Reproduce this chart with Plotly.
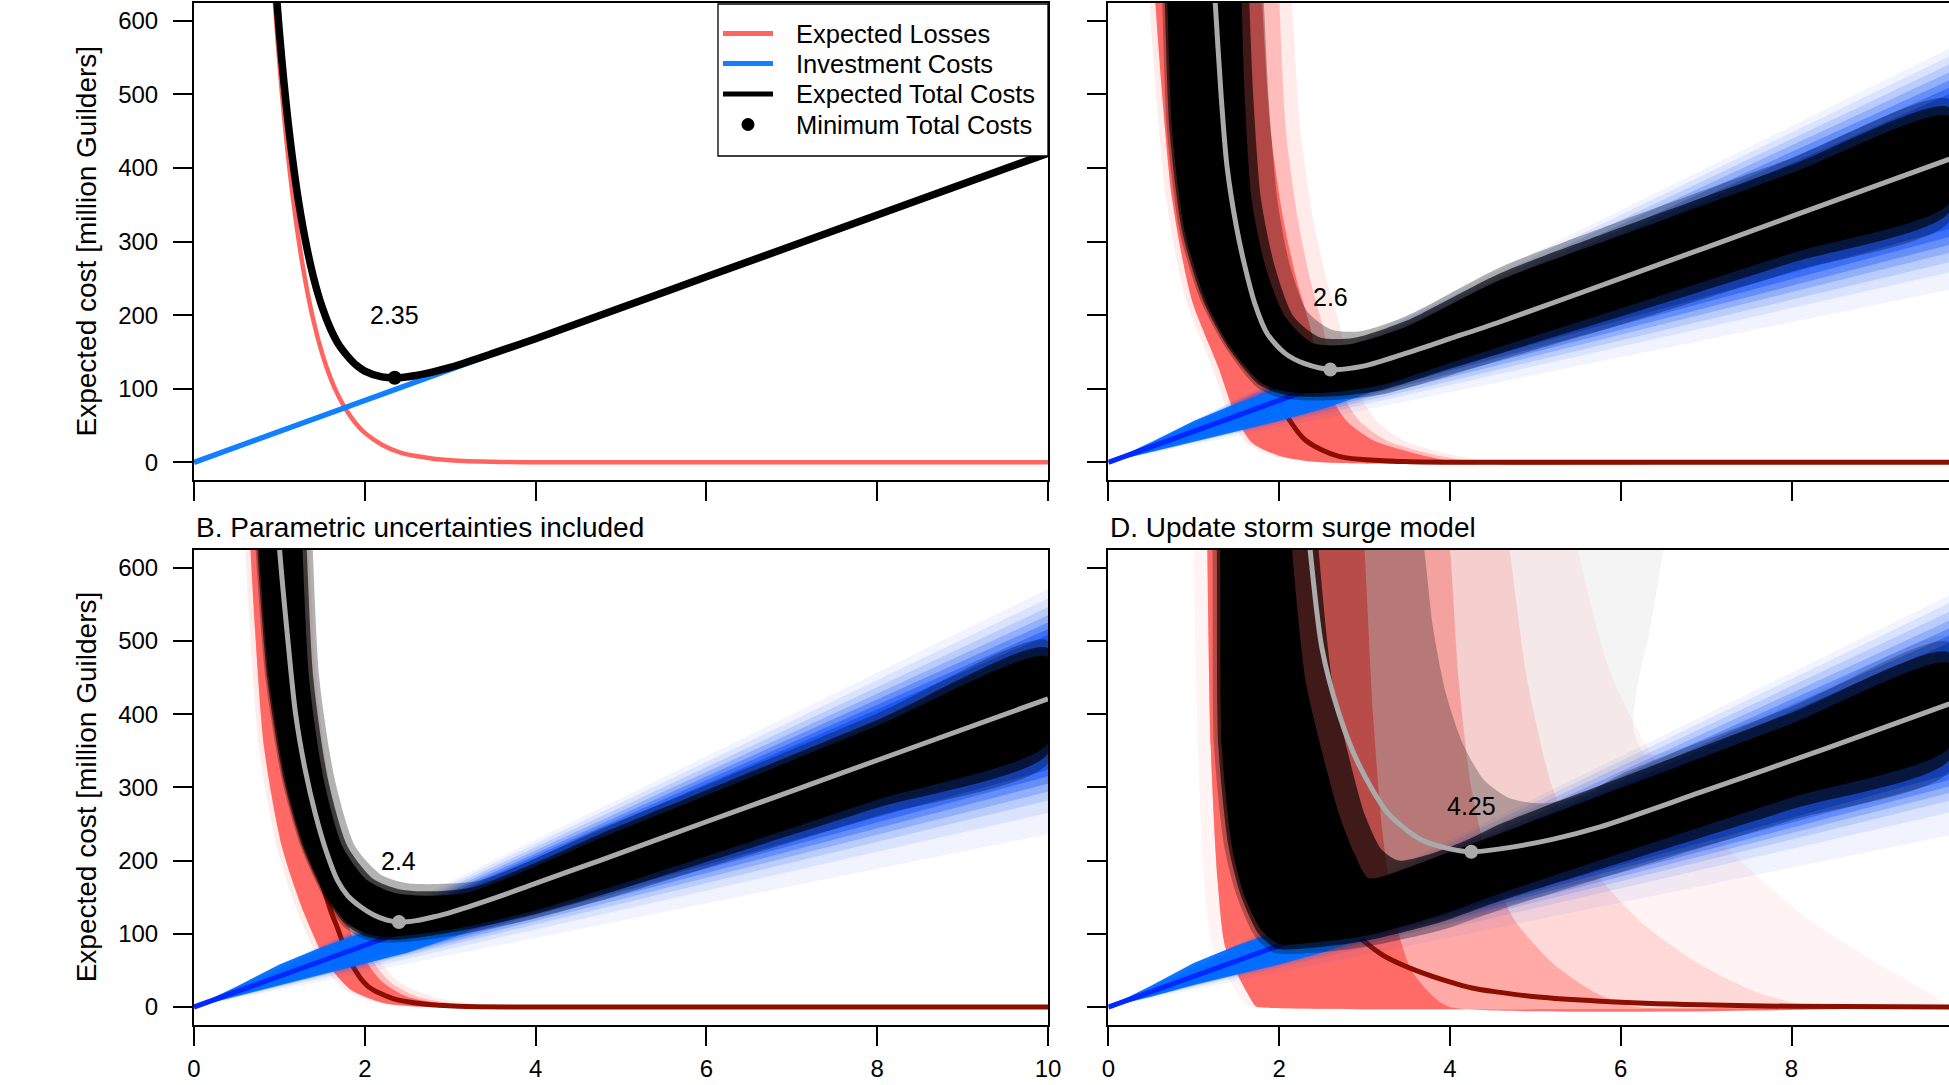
import plotly.graph_objects as go

# ---------------------------------------------------------------- data
# Panel A (deterministic)
A_X = [0.9, 1.0, 1.1, 1.2, 1.3, 1.4, 1.5, 1.6, 1.7, 1.8, 1.9, 2.0, 2.2, 2.4, 2.6, 2.8, 3.0, 3.5, 4.0, 5.0, 6.0, 8.0, 10.0]
A_LOSS = [703, 542, 418, 323, 249, 192, 148, 114, 88, 68, 52, 40, 24, 14, 8.5, 5, 3, 0.8, 0.2, 0, 0, 0, 0]
A_TOTAL = [741, 584, 464, 373, 304, 251, 211, 181, 159, 144, 132, 124, 116, 115, 118, 123, 129, 148, 168, 210, 252, 336, 420]
A_INV_X = [0, 10]
A_INV_Y = [0, 420]
A_OPT = [2.35, 115, 200]          # x, y, label y
A_LABEL = "2.35"

# Panel B (parametric uncertainties)
B_LOSS_MEAN_X = [1.0, 1.2, 1.42, 1.6, 1.68, 1.83, 2.03, 2.34, 2.7, 3.1, 4.0, 10.0]
B_LOSS_MEAN_Y = [560, 350, 205, 132, 108, 62, 29, 11, 4, 1, 0, 0]
B_TOTAL_MEAN_X = [0.93, 1.0, 1.1, 1.19, 1.3, 1.42, 1.55, 1.68, 1.8, 1.95, 2.1, 2.25, 2.4, 2.6, 2.8, 3.0, 3.5, 4.0, 4.75, 6.0, 8.0, 10.0]
B_TOTAL_MEAN_Y = [760, 628, 500, 400, 325, 264, 212, 173, 152, 137, 126, 119, 116, 118, 123, 129, 148, 169, 200, 253, 337, 421]
B_INV_MEAN_X = [0, 10]
B_INV_MEAN_Y = [0, 421]
B_OPT = [2.4, 116, 200]
B_LABEL = "2.4"
B_RED_LO_LEVELS = [760, 628, 355, 219, 128, 60, 24, 5.5, 0, 0]
B_RED_LO_X = [0.62, 0.66, 0.82, 1.03, 1.29, 1.56, 1.83, 2.22, 2.73, 10.0]
B_REDF_LO_X = [0.56, 0.60, 0.76, 0.97, 1.22, 1.49, 1.76, 2.15, 2.65, 10.0]
B_RED_HI_LEVELS = [760, 628, 420, 260, 150, 85, 36, 14, 2, 0, 0]
B_RED_HI_X = [1.15, 1.2, 1.3, 1.5, 1.7, 1.9, 2.19, 2.5, 3.1, 4.0, 10.0]
B_REDM_HI_X = [1.22, 1.27, 1.37, 1.57, 1.77, 1.97, 2.28, 2.62, 3.25, 4.2, 10.0]
B_REDF_HI_X = [1.3, 1.35, 1.45, 1.65, 1.85, 2.05, 2.38, 2.8, 3.45, 4.5, 10.0]
B_FAN_X = [0, 10]
B_FAN_HI = [571, 558, 546, 535, 525, 516, 508]
B_FAN_LO = [236, 265, 282, 294, 305, 315, 324]
B_BRIGHT_X = [0, 0.5, 1.0, 1.5, 2.0, 2.5, 3.2]
B_BRIGHT_HI = [0, 28, 58, 82, 102, 122, 135]
B_BRIGHT_LO = [0, 14, 30, 45, 59, 74, 102]
B_CORE_HI_X = [1.24, 1.27, 1.35, 1.52, 1.74, 2.03, 2.34, 2.7, 3.2, 4.0, 4.75, 6.0, 8.0, 10.0]
B_CORE_HI_Y = [760, 628, 446, 310, 219, 173, 156, 152, 156, 192, 230, 289, 384, 478]
B_CORE_LO_X = [0.72, 0.76, 0.88, 1.07, 1.29, 1.56, 1.80, 2.0, 2.19, 2.5, 3.12, 4.0, 4.75, 6.0, 8.0, 10.0]
B_CORE_LO_Y = [760, 628, 446, 310, 219, 150, 114, 101, 96, 98, 108, 132, 159, 206, 283, 360]
B_FR1_HI_X = [1.29, 1.32, 1.40, 1.57, 1.80, 2.10, 2.40, 2.74, 3.24, 4.0, 4.75, 6.0, 8.0, 10.0]
B_FR1_HI_Y = [760, 628, 446, 310, 219, 175, 161, 158, 163, 197, 236, 296, 392, 490]
B_FR1_LO_X = [0.70, 0.74, 0.86, 1.05, 1.27, 1.54, 1.78, 2.0, 2.2, 2.5, 3.12, 4.0, 4.75, 6.0, 8.0, 10.0]
B_FR1_LO_Y = [760, 628, 446, 310, 219, 150, 112, 97, 92, 93, 104, 127, 152, 198, 272, 346]
B_FR2_HI_X = [1.36, 1.39, 1.47, 1.65, 1.89, 2.2, 2.5, 2.85, 3.32, 4.0, 4.75, 6.0, 8.0, 10.0]
B_FR2_HI_Y = [760, 628, 446, 310, 219, 180, 169, 168, 172, 203, 243, 303, 401, 500]
B_FR2_LO_X = [0.68, 0.72, 0.84, 1.03, 1.25, 1.52, 1.76, 1.99, 2.2, 2.5, 3.12, 4.0, 4.75, 6.0, 8.0, 10.0]
B_FR2_LO_Y = [760, 628, 446, 310, 219, 150, 109, 93, 88, 89, 99, 121, 145, 190, 261, 333]

# Panel C
C_LOSS_MEAN_X = [1.3, 1.6, 1.85, 2.07, 2.31, 2.7, 3.48, 4.5, 9.85]
C_LOSS_MEAN_Y = [480, 230, 120, 67, 30, 8, 1, 0, 0]
C_TOTAL_MEAN_X = [1.2, 1.25, 1.32, 1.39, 1.5, 1.60, 1.72, 1.86, 2.07, 2.3, 2.62, 3.0, 3.48, 4.0, 4.59, 6.0, 8.0, 9.85]
C_TOTAL_MEAN_Y = [720, 628, 500, 402, 320, 266, 214, 175, 148, 134, 126, 131, 148, 168, 191, 250, 334, 412]
C_INV_MEAN_X = [0, 9.85]
C_INV_MEAN_Y = [0, 414]
C_OPT = [2.6, 126, 225]
C_LABEL = "2.6"
C_RED_LO_LEVELS = [720, 628, 356, 220, 129, 63, 27, 9, 0, 0]
C_RED_LO_X = [0.52, 0.55, 0.75, 0.98, 1.29, 1.49, 1.68, 2.0, 2.5, 9.85]
C_REDF_LO_X = [0.45, 0.48, 0.68, 0.91, 1.22, 1.42, 1.61, 1.93, 2.4, 9.85]
C_RED_HI_LEVELS = [720, 628, 450, 330, 250, 190, 140, 90, 55, 30, 15, 4, 0, 0]
C_RED_HI_X = [1.76, 1.80, 1.90, 2.05, 2.2, 2.35, 2.45, 2.6, 2.8, 3.1, 3.5, 3.9, 4.5, 9.85]
C_REDM_HI_X = [1.95, 2.0, 2.08, 2.22, 2.36, 2.5, 2.6, 2.75, 2.95, 3.25, 3.65, 4.1, 4.7, 9.85]
C_REDF_HI_X = [2.1, 2.15, 2.25, 2.4, 2.55, 2.7, 2.8, 2.95, 3.15, 3.45, 3.85, 4.3, 4.9, 9.85]
C_FAN_X = [0, 10]
C_FAN_HI = [571, 560, 549, 538, 527, 517, 508]
C_FAN_LO = [238, 262, 276, 289, 300, 311, 322]
C_BRIGHT_X = [0, 0.5, 1.0, 1.5, 2.0, 2.5, 3.2]
C_BRIGHT_HI = [0, 27, 56, 80, 100, 118, 132]
C_BRIGHT_LO = [0, 13, 28, 42, 56, 72, 100]
C_CORE_HI_X = [1.53, 1.56, 1.60, 1.68, 1.84, 2.07, 2.39, 2.8, 3.48, 4.59, 6.0, 8.0, 9.85]
C_CORE_HI_Y = [720, 628, 492, 356, 266, 198, 162, 160, 184, 248, 308, 393, 470]
C_CORE_LO_X = [0.66, 0.69, 0.75, 0.90, 1.14, 1.45, 1.80, 2.05, 2.31, 2.7, 3.2, 4.0, 4.59, 6.0, 8.0, 9.85]
C_CORE_LO_Y = [720, 628, 447, 311, 220, 153, 107, 97, 94, 96, 105, 135, 157, 209, 284, 352]
C_FR1_HI_X = [1.62, 1.65, 1.70, 1.79, 1.95, 2.17, 2.47, 2.87, 3.48, 4.59, 6.0, 8.0, 9.85]
C_FR1_HI_Y = [720, 628, 492, 356, 266, 198, 170, 169, 192, 257, 319, 404, 482]
C_FR1_LO_X = [0.63, 0.66, 0.72, 0.87, 1.11, 1.42, 1.77, 2.03, 2.31, 2.7, 3.2, 4.0, 4.59, 6.0, 8.0, 9.85]
C_FR1_LO_Y = [720, 628, 447, 311, 220, 153, 105, 93, 89, 90, 98, 127, 148, 198, 271, 340]
C_FR2_HI_X = [1.78, 1.82, 1.88, 1.98, 2.13, 2.33, 2.62, 2.95, 3.48, 4.59, 6.0, 8.0, 9.85]
C_FR2_HI_Y = [720, 628, 492, 356, 266, 205, 180, 178, 198, 265, 328, 413, 493]
C_FR2_LO_X = [0.60, 0.63, 0.69, 0.84, 1.08, 1.39, 1.74, 2.0, 2.31, 2.7, 3.2, 4.0, 4.59, 6.0, 8.0, 9.85]
C_FR2_LO_Y = [720, 628, 447, 311, 220, 153, 102, 88, 84, 85, 92, 118, 139, 187, 259, 327]

# Panel D (updated storm surge model)
D_LOSS_MEAN_X = [2.0, 2.3, 2.6, 2.83, 3.2, 3.67, 4.26, 4.59, 5.0, 5.76, 6.93, 8.0, 9.85]
D_LOSS_MEAN_Y = [520, 300, 170, 109, 72, 47, 26, 20, 14, 8, 3, 1, 0]
D_TOTAL_MEAN_X = [2.3, 2.36, 2.50, 2.70, 2.93, 3.28, 3.67, 4.0, 4.25, 4.59, 5.2, 5.76, 6.93, 8.4, 9.85]
D_TOTAL_MEAN_Y = [700, 628, 491, 401, 332, 264, 228, 216, 212, 216, 229, 246, 293, 353, 414]
D_INV_MEAN_X = [0, 9.85]
D_INV_MEAN_Y = [0, 414]
D_OPT = [4.25, 212, 275]
D_LABEL = "4.25"
D_RED_LO_LEVELS = [700, 624, 355, 173, 82, 36, 2, 0, 0]
D_RED_LO_X = [1.15, 1.16, 1.20, 1.28, 1.37, 1.55, 1.72, 1.75, 9.85]
D_REDF_LO_X = [0.98, 1.0, 1.05, 1.12, 1.22, 1.42, 1.62, 1.66, 9.85]
D_RED_HI_LEVELS = [700, 624, 400, 250, 160, 100, 50, 15, 0, 0]
D_RED_HI_X = [2.95, 3.0, 3.1, 3.2, 3.3, 3.4, 3.55, 3.8, 4.0, 9.85]
D_RED2_LEVELS = [700, 624, 450, 300, 200, 120, 60, 20, 0, 0]
D_REDM_HI_X = [3.9, 4.0, 4.1, 4.25, 4.45, 4.75, 5.2, 5.7, 6.2, 9.85]
D_REDL_HI_X = [4.6, 4.7, 4.9, 5.2, 5.6, 6.2, 6.9, 7.6, 8.3, 9.85]
D_REDF_HI_X = [5.4, 5.5, 5.9, 6.6, 7.4, 8.2, 9.0, 9.6, 9.85, 9.85]
D_FAN_X = [0, 10]
D_FAN_HI = [571, 560, 548, 536, 525, 515, 505]
D_FAN_LO = [238, 270, 286, 297, 306, 315, 323]
D_BRIGHT_X = [0, 0.5, 1.0, 1.5, 2.0, 2.5, 3.2]
D_BRIGHT_HI = [0, 29, 60, 84, 104, 124, 136]
D_BRIGHT_LO = [0, 14, 30, 44, 58, 74, 102]
D_CORE_HI_X = [2.12, 2.15, 2.31, 2.50, 2.70, 2.88, 3.05, 3.5, 4.0, 4.59, 6.0, 8.0, 9.85]
D_CORE_HI_Y = [700, 628, 446, 350, 264, 210, 176, 190, 212, 237, 299, 387, 469]
D_CORE_LO_X = [1.29, 1.31, 1.33, 1.45, 1.60, 1.80, 2.0, 2.4, 3.0, 3.87, 4.59, 6.0, 8.0, 9.85]
D_CORE_LO_Y = [700, 628, 355, 218, 150, 104, 86, 88, 97, 125, 155, 210, 286, 355]
D_FR1_HI_X = [2.42, 2.46, 2.62, 2.8, 3.0, 3.2, 3.4, 3.8, 4.2, 4.59, 6.0, 8.0, 9.85]
D_FR1_HI_Y = [700, 628, 446, 350, 264, 215, 200, 210, 228, 250, 313, 402, 484]
D_FR1_LO_X = [1.25, 1.27, 1.29, 1.41, 1.56, 1.76, 1.97, 2.4, 3.0, 3.87, 4.59, 6.0, 8.0, 9.85]
D_FR1_LO_Y = [700, 628, 355, 218, 150, 100, 80, 81, 90, 115, 145, 197, 270, 338]
D_FR2_HI_X = [3.6, 3.7, 3.8, 3.95, 4.15, 4.4, 4.7, 5.1, 5.6, 6.0, 8.0, 9.85]
D_FR2_HI_Y = [700, 624, 520, 430, 360, 310, 285, 278, 292, 318, 410, 498]
D_FR2_LO_X = [1.2, 1.22, 1.24, 1.36, 1.51, 1.72, 1.94, 2.4, 3.0, 3.87, 4.59, 6.0, 8.0, 9.85]
D_FR2_LO_Y = [700, 628, 355, 218, 150, 96, 74, 74, 82, 104, 133, 184, 255, 322]
D_FR3_HI_X = [6.6, 6.5, 6.35, 6.2, 6.15, 6.3, 8.0, 9.85]
D_FR3_HI_Y = [700, 624, 520, 440, 380, 345, 414, 505]

Y_TICKS = [0, 100, 200, 300, 400, 500, 600]
X_TICKS = [0, 2, 4, 6, 8, 10]
LEGEND_NAMES = ["Expected Losses", "Investment Costs", "Expected Total Costs", "Minimum Total Costs"]
TITLE_B = "B. Parametric uncertainties included"
TITLE_D = "D. Update storm surge model"
Y_TITLE = "Expected cost [million Guilders]"

# ---------------------------------------------------------------- style / layout
W, H = 1949, 1085
FONT = "Liberation Sans, Arial, Helvetica, sans-serif"
PX_L0, PX_L1 = 194.0, 1048.0
PX_R0 = 1108.3
PX_TOP = (3.0, 480.0)
PX_BOT = (550.1, 1024.6)
UNIT = (PX_L1 - PX_L0) / 10.0
R_XMAX = (W - PX_R0) / UNIT
# legend box (pixels)
LG_X0, LG_X1, LG_Y0, LG_Y1 = 718, 1048, 4, 156
LG_ROWS = [33.5, 63.5, 94.0, 124.5]
LG_KEY = (723, 773)
LG_TEXT_X = 794

RED = "rgb(255,100,96)"
DARKRED = "rgb(139,14,0)"
BLUE_A = "rgb(16,128,255)"
BLUE_BRIGHT = "rgba(0,110,255,0.95)"
BLUE_MEAN = "rgb(0,40,255)"
GRAY = "rgb(170,170,170)"
FAN_ALPHAS = [0.06, 0.1, 0.15, 0.22, 0.32, 0.45, 0.65]

fig = go.Figure()
AX = {"A": ("x", "y"), "C": ("x2", "y2"), "B": ("x3", "y3"), "D": ("x4", "y4")}


def add_line(p, x, y, color, width, shape="spline", name=None):
    xa, ya = AX[p]
    fig.add_trace(go.Scatter(x=x, y=y, xaxis=xa, yaxis=ya, mode="lines", name=name,
                             line=dict(color=color, width=width, shape=shape, smoothing=0.8),
                             hoverinfo="skip", showlegend=False))


def add_band(p, hx, hy, lx, ly, color, shape="spline"):
    xa, ya = AX[p]
    xs = list(hx) + list(lx)[::-1]
    ys = list(hy) + list(ly)[::-1]
    fig.add_trace(go.Scatter(x=xs, y=ys, xaxis=xa, yaxis=ya, mode="lines", fill="toself",
                             fillcolor=color, line=dict(width=0, color=color, shape=shape, smoothing=0.7),
                             hoverinfo="skip", showlegend=False))


def add_opt(p, opt, label, color):
    xa, ya = AX[p]
    fig.add_trace(go.Scatter(x=[opt[0]], y=[opt[1]], xaxis=xa, yaxis=ya, mode="markers",
                             marker=dict(color=color, size=14), hoverinfo="skip", showlegend=False))
    fig.add_annotation(x=opt[0], y=opt[2], xref=xa, yref=ya, text=label, showarrow=False,
                       xanchor="center", yanchor="middle",
                       font=dict(size=25, color="black", family=FONT))


# ---- Panel A
add_line("A", A_X, A_LOSS, RED, 4.5, name=LEGEND_NAMES[0])
add_line("A", A_INV_X, A_INV_Y, BLUE_A, 5.5, "linear", name=LEGEND_NAMES[1])
add_line("A", A_X, A_TOTAL, "black", 7.5, name=LEGEND_NAMES[2])
add_opt("A", A_OPT, A_LABEL, "black")


def uncertain_panel(p, red_layers, loss_x, loss_y, fan_x, fan_hi, fan_lo, br_x, br_hi, br_lo,
                    inv_x, inv_y, black_layers, tot_x, tot_y, opt, label):
    for hx, hy, lx, ly, c in red_layers:
        add_band(p, hx, hy, lx, ly, c)
    add_line(p, loss_x, loss_y, DARKRED, 5)
    for hi, lo, a in zip(fan_hi, fan_lo, FAN_ALPHAS):
        add_band(p, fan_x, [0, hi], fan_x, [0, lo], "rgba(10,75,245,%.2f)" % a, "linear")
    add_band(p, br_x, br_hi, br_x, br_lo, BLUE_BRIGHT, "linear")
    add_line(p, inv_x, inv_y, BLUE_MEAN, 5, "linear")
    for hx, hy, lx, ly, c in black_layers:
        add_band(p, hx, hy, lx, ly, c)
    add_line(p, tot_x, tot_y, GRAY, 5)
    add_opt(p, opt, label, GRAY)


RF, RM, RS = "rgba(255,100,96,0.13)", "rgba(255,100,96,0.35)", "rgba(255,100,96,0.95)"
K2, K1, K0 = "rgba(0,0,0,0.3)", "rgba(0,0,0,0.65)", "rgb(0,0,0)"

uncertain_panel("B",
                [(B_REDF_HI_X, B_RED_HI_LEVELS, B_REDF_LO_X, B_RED_LO_LEVELS, RF),
                 (B_REDM_HI_X, B_RED_HI_LEVELS, B_RED_LO_X, B_RED_LO_LEVELS, RM),
                 (B_RED_HI_X, B_RED_HI_LEVELS, B_RED_LO_X, B_RED_LO_LEVELS, RS)],
                B_LOSS_MEAN_X, B_LOSS_MEAN_Y, B_FAN_X, B_FAN_HI, B_FAN_LO,
                B_BRIGHT_X, B_BRIGHT_HI, B_BRIGHT_LO, B_INV_MEAN_X, B_INV_MEAN_Y,
                [(B_FR2_HI_X, B_FR2_HI_Y, B_FR2_LO_X, B_FR2_LO_Y, K2),
                 (B_FR1_HI_X, B_FR1_HI_Y, B_FR1_LO_X, B_FR1_LO_Y, K1),
                 (B_CORE_HI_X, B_CORE_HI_Y, B_CORE_LO_X, B_CORE_LO_Y, K0)],
                B_TOTAL_MEAN_X, B_TOTAL_MEAN_Y, B_OPT, B_LABEL)

uncertain_panel("C",
                [(C_REDF_HI_X, C_RED_HI_LEVELS, C_REDF_LO_X, C_RED_LO_LEVELS, RF),
                 (C_REDM_HI_X, C_RED_HI_LEVELS, C_RED_LO_X, C_RED_LO_LEVELS, RM),
                 (C_RED_HI_X, C_RED_HI_LEVELS, C_RED_LO_X, C_RED_LO_LEVELS, RS)],
                C_LOSS_MEAN_X, C_LOSS_MEAN_Y, C_FAN_X, C_FAN_HI, C_FAN_LO,
                C_BRIGHT_X, C_BRIGHT_HI, C_BRIGHT_LO, C_INV_MEAN_X, C_INV_MEAN_Y,
                [(C_FR2_HI_X, C_FR2_HI_Y, C_FR2_LO_X, C_FR2_LO_Y, K2),
                 (C_FR1_HI_X, C_FR1_HI_Y, C_FR1_LO_X, C_FR1_LO_Y, K1),
                 (C_CORE_HI_X, C_CORE_HI_Y, C_CORE_LO_X, C_CORE_LO_Y, K0)],
                C_TOTAL_MEAN_X, C_TOTAL_MEAN_Y, C_OPT, C_LABEL)

uncertain_panel("D",
                [(D_REDF_HI_X, D_RED2_LEVELS, D_REDF_LO_X, D_RED_LO_LEVELS, "rgba(255,100,96,0.08)"),
                 (D_REDL_HI_X, D_RED2_LEVELS, D_RED_LO_X, D_RED_LO_LEVELS, "rgba(255,100,96,0.18)"),
                 (D_REDM_HI_X, D_RED2_LEVELS, D_RED_LO_X, D_RED_LO_LEVELS, "rgba(255,100,96,0.4)"),
                 (D_RED_HI_X, D_RED_HI_LEVELS, D_RED_LO_X, D_RED_LO_LEVELS, "rgba(255,100,96,0.9)")],
                D_LOSS_MEAN_X, D_LOSS_MEAN_Y, D_FAN_X, D_FAN_HI, D_FAN_LO,
                D_BRIGHT_X, D_BRIGHT_HI, D_BRIGHT_LO, D_INV_MEAN_X, D_INV_MEAN_Y,
                [(D_FR3_HI_X, D_FR3_HI_Y, D_FR2_LO_X, D_FR2_LO_Y, "rgba(0,0,0,0.045)"),
                 (D_FR2_HI_X, D_FR2_HI_Y, D_FR2_LO_X, D_FR2_LO_Y, "rgba(0,0,0,0.25)"),
                 (D_FR1_HI_X, D_FR1_HI_Y, D_FR1_LO_X, D_FR1_LO_Y, K1),
                 (D_CORE_HI_X, D_CORE_HI_Y, D_CORE_LO_X, D_CORE_LO_Y, K0)],
                D_TOTAL_MEAN_X, D_TOTAL_MEAN_Y, D_OPT, D_LABEL)

# ---------------------------------------------------------------- axes
def xd(a, b):
    return [a / W, b / W]


def yd(t, b):
    return [1 - b / H, 1 - t / H]


axis_common = dict(showline=True, linecolor="black", linewidth=2, ticks="outside", ticklen=19,
                   tickwidth=2, tickcolor="black", showgrid=False, zeroline=False, automargin=False,
                   tickfont=dict(size=24, color="black", family=FONT), fixedrange=True)

layout = dict(
    width=W, height=H, margin=dict(l=0, r=0, t=0, b=0, autoexpand=False),
    paper_bgcolor="white", plot_bgcolor="white",
    font=dict(family=FONT, size=25, color="black"),
    showlegend=False,
)
panels = {
    "A": ("xaxis", "yaxis", xd(PX_L0, PX_L1), yd(*PX_TOP), [0, 10], False, True, True),
    "C": ("xaxis2", "yaxis2", xd(PX_R0, W), yd(*PX_TOP), [0, R_XMAX], False, False, False),
    "B": ("xaxis3", "yaxis3", xd(PX_L0, PX_L1), yd(*PX_BOT), [0, 10], True, True, True),
    "D": ("xaxis4", "yaxis4", xd(PX_R0, W), yd(*PX_BOT), [0, R_XMAX], True, False, False),
}
for p, (xk, yk, xdom, ydom, xr, xlab, ylab, ymirror) in panels.items():
    xa, ya = AX[p]
    layout[xk] = dict(axis_common, domain=xdom, range=xr, anchor=ya, tickvals=X_TICKS,
                      showticklabels=xlab, mirror=True, ticklabelstandoff=3)
    layout[yk] = dict(axis_common, domain=ydom, range=[-24, 624], anchor=xa, tickvals=Y_TICKS,
                      showticklabels=ylab, mirror=ymirror, ticklabelstandoff=10)
fig.update_layout(**layout)

# axis titles and panel titles
for (t, b) in (PX_TOP, PX_BOT):
    fig.add_annotation(x=86 / W, y=1 - (t + b) / 2 / H, xref="paper", yref="paper", text=Y_TITLE,
                       textangle=-90, xanchor="center", yanchor="middle", showarrow=False,
                       font=dict(size=28, family=FONT, color="black"))
for px, txt in ((PX_L0, TITLE_B), (PX_R0, TITLE_D)):
    fig.add_annotation(x=px / W, y=1 - 527 / H, xref="paper", yref="paper", text=txt,
                       xanchor="left", yanchor="middle", showarrow=False,
                       font=dict(size=28, family=FONT, color="black"))

# legend of panel A (box, keys, labels)
fig.add_shape(type="rect", xref="paper", yref="paper", x0=LG_X0 / W, x1=LG_X1 / W,
              y0=1 - LG_Y1 / H, y1=1 - LG_Y0 / H, fillcolor="white",
              line=dict(color="black", width=1.3), layer="above")
for i, (name, col) in enumerate(zip(LEGEND_NAMES, [RED, BLUE_A, "black", "black"])):
    yy = 1 - LG_ROWS[i] / H
    if i < 3:
        fig.add_shape(type="line", xref="paper", yref="paper", x0=LG_KEY[0] / W, x1=LG_KEY[1] / W,
                      y0=yy, y1=yy, line=dict(color=col, width=5), layer="above")
    else:
        cx = (LG_KEY[0] + LG_KEY[1]) / 2
        fig.add_shape(type="circle", xref="paper", yref="paper", x0=(cx - 6.5) / W, x1=(cx + 6.5) / W,
                      y0=yy - 6.5 / H, y1=yy + 6.5 / H, fillcolor=col, line=dict(width=0), layer="above")
    fig.add_annotation(x=LG_TEXT_X / W, y=yy, xref="paper", yref="paper", text=name,
                       xanchor="left", yanchor="middle", showarrow=False,
                       font=dict(size=25.5, family=FONT, color="black"))

fig.write_html("out.html", config={"displayModeBar": False},
               post_script="document.body.style.margin='0px';document.body.style.overflow='hidden';")
